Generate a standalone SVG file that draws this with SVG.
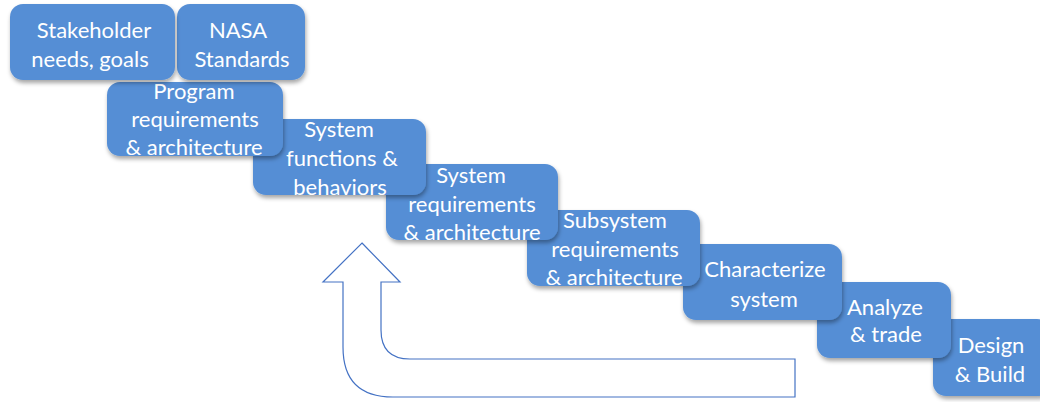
<svg xmlns="http://www.w3.org/2000/svg" width="1040" height="402" viewBox="0 0 1040 402">
<defs>
<filter id="sh" x="-10%" y="-10%" width="130%" height="140%">
<feDropShadow dx="1" dy="3" stdDeviation="2" flood-color="#000" flood-opacity="0.35"/>
</filter>
<style>
.box{fill:#558ED5;filter:url(#sh)}
.t{font-family:Lato,"Liberation Sans",sans-serif;font-size:22px;fill:#fff;text-anchor:middle}
.arrow{fill:#fff;stroke:#4472C4;stroke-width:1.2}
</style>
</defs>
<g id="connectors">
<path class="arrow" d="M362,243 L400,282 L381,282 L381,330 Q381,359 410,359 L795,359 L795,397 L393,397 Q343,397 343,347 L343,282 L323,282 Z"/>
</g>
<g id="n9"><rect class="box" x="933" y="319" width="117" height="77" rx="13"/>
<text class="t" x="991" y="353">Design</text><text class="t" x="990" y="382">&amp; Build</text></g>
<g id="n8"><rect class="box" x="817" y="282" width="134" height="76" rx="13"/>
<text class="t" x="885" y="315">Analyze</text><text class="t" x="886" y="342">&amp; trade</text></g>
<g id="n7"><rect class="box" x="683" y="244" width="159" height="76" rx="13"/>
<text class="t" x="765" y="277">Characterize</text><text class="t" x="764" y="307">system</text></g>
<g id="n6"><rect class="box" x="527" y="210" width="173" height="76" rx="13"/>
<text class="t" x="615" y="228">Subsystem</text><text class="t" x="615" y="257">requirements</text><text class="t" x="614" y="285">&amp; architecture</text></g>
<g id="n5"><rect class="box" x="386" y="164" width="172" height="76" rx="13"/>
<text class="t" x="471" y="183">System</text><text class="t" x="472" y="212">requirements</text><text class="t" x="472" y="240">&amp; architecture</text></g>
<g id="n4"><rect class="box" x="253" y="119" width="173" height="76" rx="13"/>
<text class="t" x="339" y="137">System</text><text class="t" x="342" y="166">functions &amp;</text><text class="t" x="340" y="195">behaviors</text></g>
<g id="n3"><rect class="box" x="107" y="82" width="176" height="74" rx="13"/>
<text class="t" x="194" y="99">Program</text><text class="t" x="195" y="127">requirements</text><text class="t" x="194" y="155">&amp; architecture</text></g>
<g id="n2"><rect class="box" x="177" y="4" width="128" height="76" rx="13"/>
<text class="t" x="238" y="38">NASA</text><text class="t" x="242" y="67">Standards</text></g>
<g id="n1"><rect class="box" x="10" y="4" width="165" height="76" rx="13"/>
<text class="t" x="94" y="38">Stakeholder</text><text class="t" x="90" y="67">needs, goals</text></g>
</svg>
